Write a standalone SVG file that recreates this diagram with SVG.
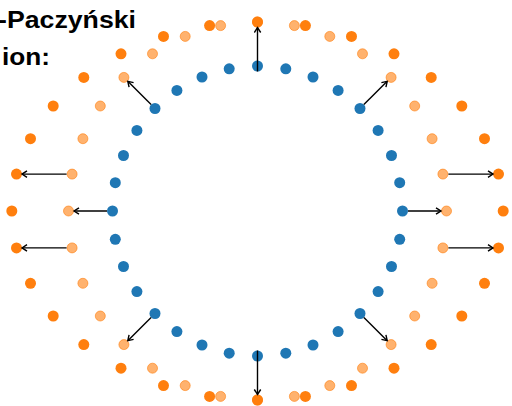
<svg xmlns="http://www.w3.org/2000/svg" width="512" height="406" viewBox="0 0 512 406">
<style>
.t{font-family:"Liberation Sans",Arial,sans-serif;font-weight:bold;font-size:23px;fill:#000}
.b circle{fill:#1f77b4}
.d circle{fill:#ff7f0e}
.l circle{fill:#ff7f0e;fill-opacity:.6;stroke:#ff7f0e;stroke-opacity:.6;stroke-width:1}
.ar line{stroke:#000;stroke-width:1.4;fill:none;marker-end:url(#h)}
</style>
<defs>
<marker id="h" markerUnits="userSpaceOnUse" markerWidth="10" markerHeight="10" refX="6" refY="4" orient="auto">
<path d="M1,0.8 L6,4 L1,7.2" fill="none" stroke="#000" stroke-width="1.4"/>
</marker>
</defs>
<rect width="512" height="406" fill="#fff"/>
<g id="title">
<text class="t" x="-2" y="28" textLength="138" lengthAdjust="spacingAndGlyphs">-Paczyński</text>
<text class="t" x="2" y="65" textLength="48" lengthAdjust="spacingAndGlyphs">ion:</text>
</g>
<g transform="translate(257.5,211)">
<g id="ring-dark" class="d">
<circle r="5.5" cx="0" cy="-189"/><circle r="5.5" cx="47.9" cy="-185.4"/><circle r="5.5" cx="94" cy="-174.6"/><circle r="5.5" cx="136.5" cy="-157.2"/><circle r="5.5" cx="173.7" cy="-133.6"/><circle r="5.5" cx="204.3" cy="-105"/><circle r="5.5" cx="227" cy="-72.3"/><circle r="5.5" cx="241" cy="-36.9"/>
<circle r="5.5" cx="245.7" cy="0"/><circle r="5.5" cx="241" cy="36.9"/><circle r="5.5" cx="227" cy="72.3"/><circle r="5.5" cx="204.3" cy="105"/><circle r="5.5" cx="173.7" cy="133.6"/><circle r="5.5" cx="136.5" cy="157.2"/><circle r="5.5" cx="94" cy="174.6"/><circle r="5.5" cx="47.9" cy="185.4"/>
<circle r="5.5" cx="0" cy="189"/><circle r="5.5" cx="-47.9" cy="185.4"/><circle r="5.5" cx="-94" cy="174.6"/><circle r="5.5" cx="-136.5" cy="157.2"/><circle r="5.5" cx="-173.7" cy="133.6"/><circle r="5.5" cx="-204.3" cy="105"/><circle r="5.5" cx="-227" cy="72.3"/><circle r="5.5" cx="-241" cy="36.9"/>
<circle r="5.5" cx="-245.7" cy="0"/><circle r="5.5" cx="-241" cy="-36.9"/><circle r="5.5" cx="-227" cy="-72.3"/><circle r="5.5" cx="-204.3" cy="-105"/><circle r="5.5" cx="-173.7" cy="-133.6"/><circle r="5.5" cx="-136.5" cy="-157.2"/><circle r="5.5" cx="-94" cy="-174.6"/><circle r="5.5" cx="-47.9" cy="-185.4"/>
</g>
<g id="ring-light" class="l">
<circle r="5" cx="0" cy="-189"/><circle r="5" cx="36.9" cy="-185.4"/><circle r="5" cx="72.3" cy="-174.6"/><circle r="5" cx="105" cy="-157.2"/><circle r="5" cx="133.6" cy="-133.6"/><circle r="5" cx="157.2" cy="-105"/><circle r="5" cx="174.6" cy="-72.3"/><circle r="5" cx="185.4" cy="-36.9"/>
<circle r="5" cx="189" cy="0"/><circle r="5" cx="185.4" cy="36.9"/><circle r="5" cx="174.6" cy="72.3"/><circle r="5" cx="157.2" cy="105"/><circle r="5" cx="133.6" cy="133.6"/><circle r="5" cx="105" cy="157.2"/><circle r="5" cx="72.3" cy="174.6"/><circle r="5" cx="36.9" cy="185.4"/>
<circle r="5" cx="0" cy="189"/><circle r="5" cx="-36.9" cy="185.4"/><circle r="5" cx="-72.3" cy="174.6"/><circle r="5" cx="-105" cy="157.2"/><circle r="5" cx="-133.6" cy="133.6"/><circle r="5" cx="-157.2" cy="105"/><circle r="5" cx="-174.6" cy="72.3"/><circle r="5" cx="-185.4" cy="36.9"/>
<circle r="5" cx="-189" cy="0"/><circle r="5" cx="-185.4" cy="-36.9"/><circle r="5" cx="-174.6" cy="-72.3"/><circle r="5" cx="-157.2" cy="-105"/><circle r="5" cx="-133.6" cy="-133.6"/><circle r="5" cx="-105" cy="-157.2"/><circle r="5" cx="-72.3" cy="-174.6"/><circle r="5" cx="-36.9" cy="-185.4"/>
</g>
<g id="ring-blue" class="b">
<circle r="5.5" cx="0" cy="-145"/><circle r="5.5" cx="28.3" cy="-142.2"/><circle r="5.5" cx="55.5" cy="-134"/><circle r="5.5" cx="80.6" cy="-120.6"/><circle r="5.5" cx="102.5" cy="-102.5"/><circle r="5.5" cx="120.6" cy="-80.6"/><circle r="5.5" cx="134" cy="-55.5"/><circle r="5.5" cx="142.2" cy="-28.3"/>
<circle r="5.5" cx="145" cy="0"/><circle r="5.5" cx="142.2" cy="28.3"/><circle r="5.5" cx="134" cy="55.5"/><circle r="5.5" cx="120.6" cy="80.6"/><circle r="5.5" cx="102.5" cy="102.5"/><circle r="5.5" cx="80.6" cy="120.6"/><circle r="5.5" cx="55.5" cy="134"/><circle r="5.5" cx="28.3" cy="142.2"/>
<circle r="5.5" cx="0" cy="145"/><circle r="5.5" cx="-28.3" cy="142.2"/><circle r="5.5" cx="-55.5" cy="134"/><circle r="5.5" cx="-80.6" cy="120.6"/><circle r="5.5" cx="-102.5" cy="102.5"/><circle r="5.5" cx="-120.6" cy="80.6"/><circle r="5.5" cx="-134" cy="55.5"/><circle r="5.5" cx="-142.2" cy="28.3"/>
<circle r="5.5" cx="-145" cy="0"/><circle r="5.5" cx="-142.2" cy="-28.3"/><circle r="5.5" cx="-134" cy="-55.5"/><circle r="5.5" cx="-120.6" cy="-80.6"/><circle r="5.5" cx="-102.5" cy="-102.5"/><circle r="5.5" cx="-80.6" cy="-120.6"/><circle r="5.5" cx="-55.5" cy="-134"/><circle r="5.5" cx="-28.3" cy="-142.2"/>
</g>
<g id="arrows" class="ar">
<line x1="0" y1="-139.5" x2="0" y2="-183.5"/>
<line x1="0" y1="139.5" x2="0" y2="183.5"/>
<line x1="150.5" y1="0" x2="183.5" y2="0"/>
<line x1="-150.5" y1="0" x2="-183.5" y2="0"/>
<line x1="106.4" y1="-106.4" x2="129.7" y2="-129.7"/>
<line x1="-106.4" y1="-106.4" x2="-129.7" y2="-129.7"/>
<line x1="106.4" y1="106.4" x2="129.7" y2="129.7"/>
<line x1="-106.4" y1="106.4" x2="-129.7" y2="129.7"/>
<line x1="190.9" y1="-36.9" x2="235.5" y2="-36.9"/>
<line x1="190.9" y1="36.9" x2="235.5" y2="36.9"/>
<line x1="-190.9" y1="-36.9" x2="-235.5" y2="-36.9"/>
<line x1="-190.9" y1="36.9" x2="-235.5" y2="36.9"/>
</g>
</g>
</svg>
